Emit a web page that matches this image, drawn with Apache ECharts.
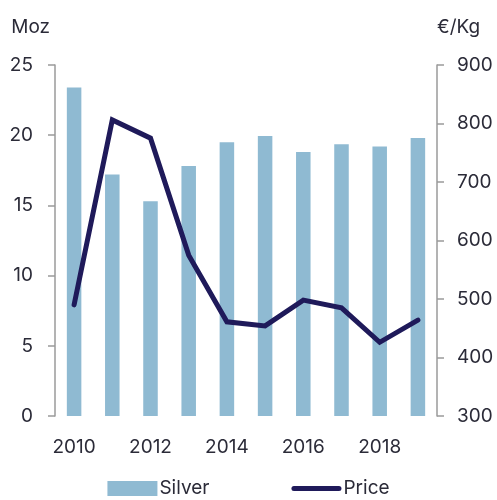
<!DOCTYPE html>
<html>
<head>
<meta charset="utf-8">
<script src="https://cdn.jsdelivr.net/npm/echarts@6/dist/echarts.min.js"></script>
<style>
  html, body { margin: 0; padding: 0; background: #fff; }
  #chart { width: 497px; height: 500px; }
</style>
</head>
<body>
<div id="chart"></div>
<script>
// Annual silver volume (Moz) and average price (€/Kg)
const years = ['2010', '2011', '2012', '2013', '2014', '2015', '2016', '2017', '2018', '2019'];
const silver = [23.4, 17.2, 15.3, 17.8, 19.5, 19.95, 18.8, 19.35, 19.2, 19.8];
const price = [490, 806, 775, 575, 461, 454, 498, 485, 426, 464];

const textColor = '#2b2b38';
const axisColor = '#9a9a9a';
const font = 'Inter, Liberation Sans, Arial, sans-serif';
const fs = 19;

// thick line with round ends used as the legend marker of the price series
const lineIcon = 'path://M2.5,0 H47.5 A2.5,2.5 0 0 1 47.5,5 H2.5 A2.5,2.5 0 0 1 2.5,0 Z';

const chart = echarts.init(document.getElementById('chart'), null, { renderer: 'canvas' });
chart.setOption({
  animation: false,
  textStyle: { fontFamily: font },
  grid: { left: 55, right: 60, top: 65, bottom: 84 },
  legend: {
    bottom: -3,
    left: 'center',
    itemWidth: 50,
    itemHeight: 15,
    itemGap: 82,
    symbolKeepAspect: true,
    textStyle: { fontSize: fs, color: textColor, fontFamily: font, padding: [0, 0, 0, -3] },
    data: [
      { name: 'Silver', icon: 'rect' },
      { name: 'Price', icon: lineIcon }
    ]
  },
  xAxis: {
    type: 'category',
    data: years,
    axisLine: { show: false },
    axisTick: { show: false },
    axisLabel: { interval: 1, fontSize: fs, color: textColor, margin: 22 }
  },
  yAxis: [
    {
      type: 'value',
      name: 'Moz',
      nameLocation: 'end',
      nameGap: 28,
      nameTextStyle: { fontSize: fs, color: textColor, align: 'right', padding: [0, 5, 0, 0] },
      min: 0, max: 25, interval: 5,
      axisLine: { show: true, lineStyle: { color: axisColor, width: 1.5 } },
      axisTick: { show: true, length: 7, lineStyle: { color: axisColor, width: 1.5 } },
      splitLine: { show: false },
      axisLabel: { fontSize: fs, color: textColor, margin: 22 }
    },
    {
      type: 'value',
      name: '€/Kg',
      nameLocation: 'end',
      nameGap: 28,
      nameTextStyle: { fontSize: fs, color: textColor, align: 'left', padding: [0, 0, 0, 0] },
      min: 300, max: 900, interval: 100,
      axisLine: { show: true, lineStyle: { color: axisColor, width: 1.5 } },
      axisTick: { show: true, length: 7, lineStyle: { color: axisColor, width: 1.5 } },
      splitLine: { show: false },
      axisLabel: { fontSize: fs, color: textColor, margin: 20 }
    }
  ],
  series: [
    {
      name: 'Silver',
      type: 'bar',
      data: silver,
      barWidth: '38%',
      itemStyle: { color: '#8fbad2' }
    },
    {
      name: 'Price',
      type: 'line',
      yAxisIndex: 1,
      data: price,
      symbol: 'none',
      lineStyle: { color: '#1f1a5a', width: 5, cap: 'round', join: 'miter' },
      itemStyle: { color: '#1f1a5a' }
    }
  ]
});
</script>
</body>
</html>
